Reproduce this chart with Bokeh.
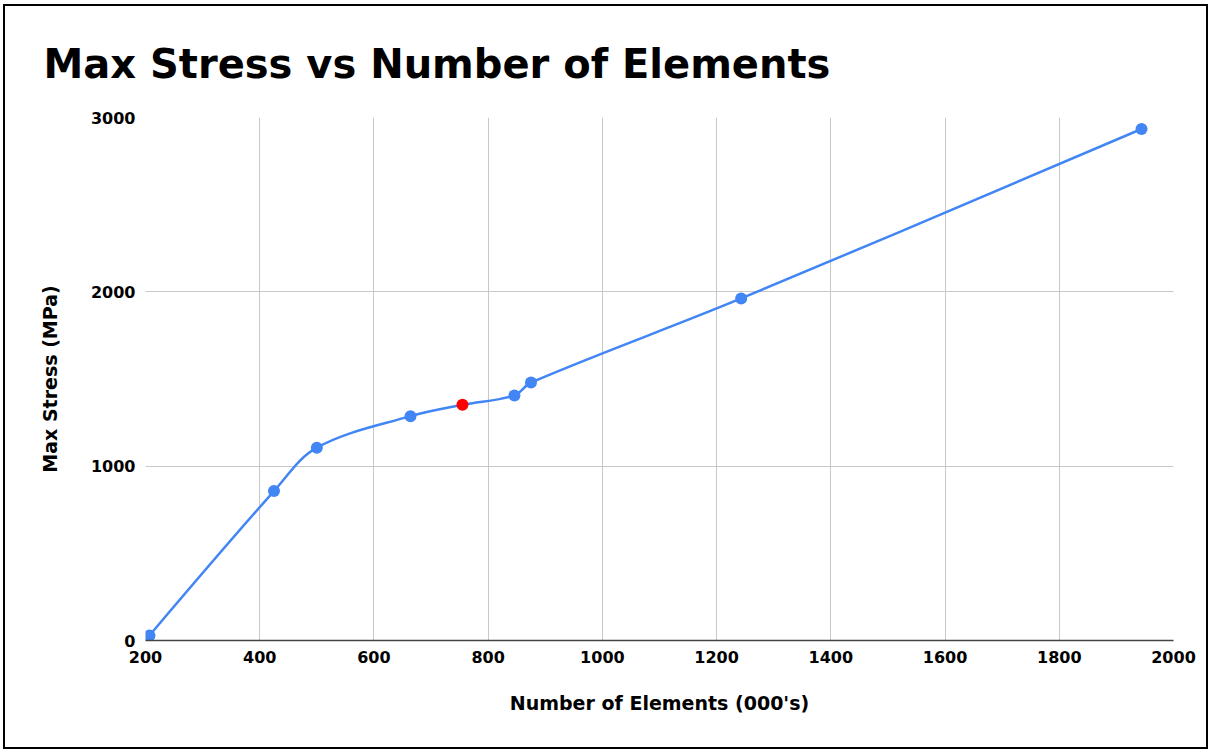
import math

from bokeh.embed import file_html
from bokeh.models import FixedTicker
from bokeh.plotting import figure
from bokeh.resources import INLINE

# Mesh convergence study: element count (thousands) against peak stress
elements = [207, 425, 500, 664, 755, 846, 875, 1243, 1944]
max_stress = [29, 857, 1106, 1287, 1352, 1406, 1480, 1962, 2934]
highlight_index = 4  # the selected mesh

x_ticks = [200, 400, 600, 800, 1000, 1200, 1400, 1600, 1800, 2000]
y_ticks = [0, 1000, 2000, 3000]

FONT = "DejaVu Sans"
BLUE = "#4285f4"
RED = "#ff0000"

p = figure(
    width=1205, height=745,
    x_range=(200, 2000), y_range=(0, 3000),
    output_backend="svg", toolbar_location=None,
    min_border_left=140, min_border_right=37,
    min_border_top=111, min_border_bottom=111,
    styles={"border": "2px solid black", "margin-left": "3px", "margin-top": "4px"},
)
p.outline_line_color = None
p.background_fill_color = "white"
p.border_fill_color = "white"

p.title.text = "Max Stress vs Number of Elements"
p.title.text_font = FONT
p.title.text_font_size = "40px"
p.title.text_font_style = "bold"
p.title.text_color = "black"
p.title.align = "left"
p.title.offset = -102
p.title.standoff = 62

# grid
p.xaxis.ticker = FixedTicker(ticks=x_ticks)
p.yaxis.ticker = FixedTicker(ticks=y_ticks)
p.xgrid.grid_line_color = "#c8c8c8"
p.ygrid.grid_line_color = "#c8c8c8"
p.xgrid.grid_line_width = 1
p.ygrid.grid_line_width = 1

# axes
for ax in (p.xaxis, p.yaxis):
    ax.major_tick_line_color = None
    ax.minor_tick_line_color = None
    ax.major_tick_out = 0
    ax.major_tick_in = 0
    ax.major_label_text_font = FONT
    ax.major_label_text_font_size = "16px"
    ax.major_label_text_font_style = "bold"
    ax.major_label_text_color = "black"
    ax.axis_label_text_font = FONT
    ax.axis_label_text_font_size = "19px"
    ax.axis_label_text_font_style = "bold"
    ax.axis_label_text_color = "black"
    ax.major_label_standoff = 10

p.xaxis.axis_label = "Number of Elements (000's)"
p.yaxis.axis_label = "Max Stress (MPa)"
p.xaxis.axis_line_color = "#444444"
p.xaxis.axis_line_width = 1.5
p.yaxis.axis_line_color = None
p.xaxis.axis_label_standoff = 26
p.yaxis.axis_label_standoff = 27

# smoothed connecting line: cubic Bezier segments whose handles follow the
# neighbouring chord, scaled by the adjacent segment lengths (in screen proportions)
sx = 1028 / 1800.0
sy = 523 / 3000.0
n = len(elements)
pts = [(elements[i] * sx, max_stress[i] * sy) for i in range(n)]
smooth = 0.35
c_out = [None] * n
c_in = [None] * n
for i in range(n):
    if i == 0 or i == n - 1:
        c_out[i] = pts[i]
        c_in[i] = pts[i]
        continue
    (x0, y0), (x1, y1), (x2, y2) = pts[i - 1], pts[i], pts[i + 1]
    l1 = math.hypot(x1 - x0, y1 - y0)
    l2 = math.hypot(x2 - x1, y2 - y1)
    dx, dy = x2 - x0, y2 - y0
    f1 = smooth * l1 / (l1 + l2)
    f2 = smooth * l2 / (l1 + l2)
    c_in[i] = (x1 - dx * f1, y1 - dy * f1)
    c_out[i] = (x1 + dx * f2, y1 + dy * f2)

p.bezier(
    x0=elements[:-1], y0=max_stress[:-1],
    x1=elements[1:], y1=max_stress[1:],
    cx0=[c_out[i][0] / sx for i in range(n - 1)],
    cy0=[c_out[i][1] / sy for i in range(n - 1)],
    cx1=[c_in[i + 1][0] / sx for i in range(n - 1)],
    cy1=[c_in[i + 1][1] / sy for i in range(n - 1)],
    line_color=BLUE, line_width=2.5,
)

colors = [RED if i == highlight_index else BLUE for i in range(n)]
p.scatter(elements, max_stress, size=12, fill_color=colors, line_color=None)

open("out.html", "w").write(file_html(p, INLINE))
